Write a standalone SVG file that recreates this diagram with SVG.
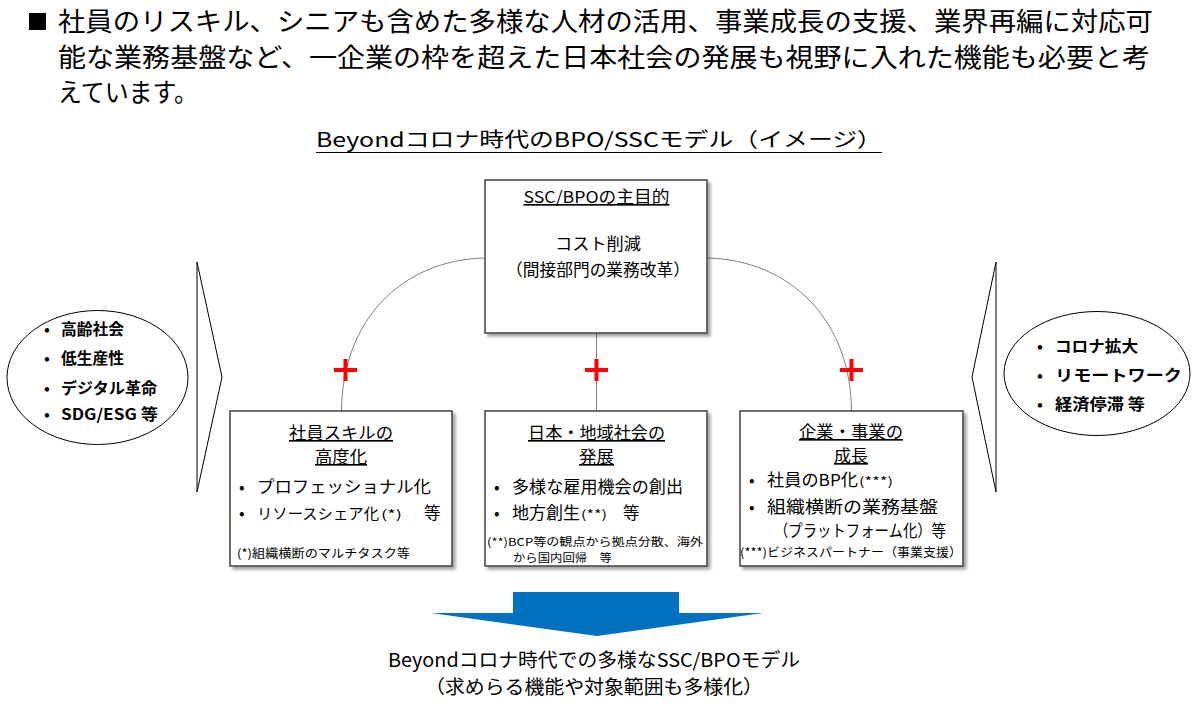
<svg xmlns="http://www.w3.org/2000/svg" width="1195" height="713" viewBox="0 0 1195 713">
<defs>
<filter id="sh" x="-10%" y="-10%" width="125%" height="125%">
<feDropShadow dx="3" dy="3" stdDeviation="1.5" flood-color="#000" flood-opacity="0.35"/>
</filter>
<style>
text{font-family:"Noto Sans CJK JP","Noto Sans",sans-serif;fill:#000}
.hd{font-size:26px}
.ttl{font-size:20px}
.res{font-size:19px}
.bt{font-size:16.5px;text-decoration:underline}
.b{font-size:16.5px}
.bn{font-size:15px}
.s{font-size:12px}
.sn{font-size:11px}
.e{font-size:15.5px;font-weight:bold}
.box{fill:#fff;stroke:#404040;stroke-width:1.5}
.con{fill:none;stroke:#808080;stroke-width:1}
.plus{stroke:#ff0000;stroke-width:4;fill:none}
.shape{fill:#fff;stroke:#000;stroke-width:1}
</style>
</defs>
<rect width="1195" height="713" fill="#fff"/>

<g id="header">
<rect x="29" y="13" width="17" height="17" fill="#000"/>
<text class="hd"><tspan x="58" y="31" textLength="1095" lengthAdjust="spacingAndGlyphs">社員のリスキル、シニアも含めた多様な人材の活用、事業成長の支援、業界再編に対応可</tspan><tspan x="58" y="66.5" textLength="1092" lengthAdjust="spacingAndGlyphs">能な業務基盤など、一企業の枠を超えた日本社会の発展も視野に入れた機能も必要と考</tspan><tspan x="58" y="102" textLength="140" lengthAdjust="spacingAndGlyphs">えています。</tspan></text>
</g>

<g id="title">
<text class="ttl" x="316" y="147" textLength="566" lengthAdjust="spacingAndGlyphs">Beyondコロナ時代のBPO/SSCモデル（イメージ）</text>
<line x1="316" y1="152.5" x2="882" y2="152.5" stroke="#000" stroke-width="1.2"/>
</g>

<g id="connectors">
<path class="con" d="M485,258 C400,260 342,322 341.5,411"/>
<path class="con" d="M707,258 C792,260 851,322 851.5,411"/>
<line class="con" x1="596.5" y1="333" x2="596.5" y2="411"/>
<path class="plus" d="M334,370 H357 M345.5,359 V381"/>
<path class="plus" d="M585,370 H608 M596.5,359 V381"/>
<path class="plus" d="M840,370 H863 M851.5,359 V381"/>
</g>

<g id="center-node">
<rect class="box" x="485" y="180" width="222" height="153" filter="url(#sh)"/>
<text class="bt" x="596.5" y="203" text-anchor="middle" textLength="146" lengthAdjust="spacingAndGlyphs">SSC/BPOの主目的</text>
<text class="b" text-anchor="middle"><tspan x="598" y="250" textLength="86" lengthAdjust="spacingAndGlyphs">コスト削減</tspan><tspan x="598" y="276" textLength="184" lengthAdjust="spacingAndGlyphs">（間接部門の業務改革）</tspan></text>
</g>

<g id="left-input">
<path class="shape" d="M197,262 L222,377 L197,492 Z"/>
<ellipse class="shape" cx="97.5" cy="377.5" rx="90.5" ry="67"/>
<text class="e" x="44" y="335">•</text>
<text class="e" x="61" y="335" textLength="63" lengthAdjust="spacingAndGlyphs">高齢社会</text>
<text class="e" x="44" y="364">•</text>
<text class="e" x="61" y="364" textLength="63" lengthAdjust="spacingAndGlyphs">低生産性</text>
<text class="e" x="44" y="394">•</text>
<text class="e" x="61" y="394" textLength="96" lengthAdjust="spacingAndGlyphs">デジタル革命</text>
<text class="e" x="44" y="420">•</text>
<text class="e" x="61" y="420" textLength="97" lengthAdjust="spacingAndGlyphs">SDG/ESG 等</text>
</g>

<g id="right-input">
<path class="shape" d="M996,262 L972,377 L996,492 Z"/>
<ellipse class="shape" cx="1097" cy="373.5" rx="93" ry="62"/>
<text class="e" x="1037" y="352">•</text>
<text class="e" x="1055" y="352" textLength="83" lengthAdjust="spacingAndGlyphs">コロナ拡大</text>
<text class="e" x="1037" y="381">•</text>
<text class="e" x="1055" y="381" textLength="127" lengthAdjust="spacingAndGlyphs">リモートワーク</text>
<text class="e" x="1037" y="410">•</text>
<text class="e" x="1055" y="410" textLength="90" lengthAdjust="spacingAndGlyphs">経済停滞 等</text>
</g>

<g id="node-skill">
<rect class="box" x="230" y="411" width="222" height="155" filter="url(#sh)"/>
<text class="bt" text-anchor="middle"><tspan x="341" y="439" textLength="104" lengthAdjust="spacingAndGlyphs">社員スキルの</tspan><tspan x="341" y="463" textLength="52" lengthAdjust="spacingAndGlyphs">高度化</tspan></text>
<text class="b" x="239" y="493">•</text>
<text class="b" x="257" y="493" textLength="174" lengthAdjust="spacingAndGlyphs">プロフェッショナル化</text>
<text class="b" x="239" y="519">•</text>
<text class="bn" x="257" y="519" textLength="122" lengthAdjust="spacingAndGlyphs">リソースシェア化</text>
<text class="s" x="381" y="519" textLength="21" lengthAdjust="spacingAndGlyphs">(*)</text>
<text class="b" x="424" y="519">等</text>
<text class="s" x="237" y="558" textLength="173" lengthAdjust="spacingAndGlyphs">(*)組織横断のマルチタスク等</text>
</g>

<g id="node-society">
<rect class="box" x="485" y="411" width="222" height="155" filter="url(#sh)"/>
<text class="bt" text-anchor="middle"><tspan x="596.5" y="439" textLength="137" lengthAdjust="spacingAndGlyphs">日本・地域社会の</tspan><tspan x="596.5" y="463" textLength="35" lengthAdjust="spacingAndGlyphs">発展</tspan></text>
<text class="b" x="494" y="493">•</text>
<text class="b" x="512" y="493" textLength="171" lengthAdjust="spacingAndGlyphs">多様な雇用機会の創出</text>
<text class="b" x="494" y="519">•</text>
<text class="b" x="512" y="519" textLength="68" lengthAdjust="spacingAndGlyphs">地方創生</text>
<text class="s" x="581" y="519" textLength="26" lengthAdjust="spacingAndGlyphs">(**)</text>
<text class="b" x="623" y="519">等</text>
<text class="sn"><tspan x="487" y="546" textLength="216" lengthAdjust="spacingAndGlyphs">(**)BCP等の観点から拠点分散、海外</tspan><tspan x="513" y="562" textLength="99" lengthAdjust="spacingAndGlyphs">から国内回帰　等</tspan></text>
</g>

<g id="node-business">
<rect class="box" x="740" y="411" width="223" height="155" filter="url(#sh)"/>
<text class="bt" text-anchor="middle"><tspan x="851" y="438" textLength="104" lengthAdjust="spacingAndGlyphs">企業・事業の</tspan><tspan x="851" y="462" textLength="34" lengthAdjust="spacingAndGlyphs">成長</tspan></text>
<text class="b" x="749" y="486">•</text>
<text class="b" x="767" y="486" textLength="91" lengthAdjust="spacingAndGlyphs">社員のBP化</text>
<text class="s" x="859" y="486" textLength="34" lengthAdjust="spacingAndGlyphs">(***)</text>
<text class="b" x="749" y="513">•</text>
<text class="b" x="767" y="513" textLength="171" lengthAdjust="spacingAndGlyphs">組織横断の業務基盤</text>
<text class="b" x="774" y="537" textLength="172" lengthAdjust="spacingAndGlyphs">（プラットフォーム化）等</text>
<text class="s" x="740" y="557" textLength="222" lengthAdjust="spacingAndGlyphs">(***)ビジネスパートナー（事業支援）</text>
</g>

<g id="result">
<path d="M513,592 H679 V613 H763 L597,636 L431,613 H513 Z" fill="#0070c0"/>
<text class="res" text-anchor="middle"><tspan x="594" y="667" textLength="412" lengthAdjust="spacingAndGlyphs">Beyondコロナ時代での多様なSSC/BPOモデル</tspan><tspan x="594" y="694" textLength="338" lengthAdjust="spacingAndGlyphs">（求めらる機能や対象範囲も多様化）</tspan></text>
</g>
</svg>
